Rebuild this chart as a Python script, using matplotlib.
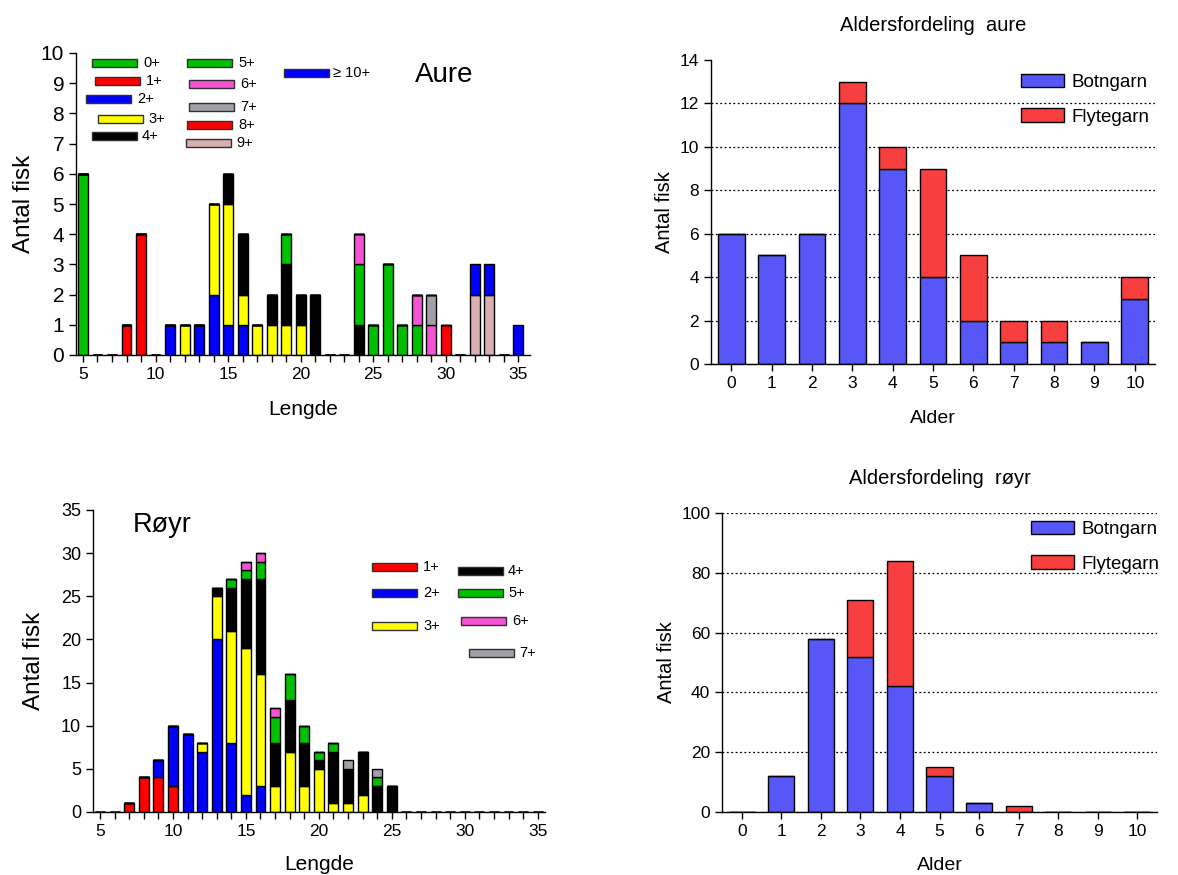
"""
Lengde- og aldersfordeling for aure og røyr (botngarn og flytegarn).
"""

import numpy as np
import matplotlib
matplotlib.use("Agg")
import matplotlib.pyplot as plt
from matplotlib.patches import Rectangle


# =========================================================
# PLOT FORMATTING
# =========================================================

plt.rcParams.update({
    "font.family": ["Liberation Sans", "DejaVu Sans"],
    "font.size": 13,
    "axes.linewidth": 1.0,
    "xtick.major.size": 5,
    "ytick.major.size": 5,
    "xtick.major.width": 1.0,
    "ytick.major.width": 1.0,
})


# =========================================================
# DATA
# =========================================================

lengths = list(range(5, 36))
ages = list(range(0, 11))

# Aure, antal fisk per lengde, per aldersgruppe (5 .. 35 cm)
aure_0 = [6, 0, 0, 0, 0, 0, 0, 0, 0, 0, 0, 0, 0, 0, 0, 0, 0, 0, 0, 0, 0, 0, 0, 0, 0, 0, 0, 0, 0, 0, 0]
aure_1 = [0, 0, 0, 1, 4, 0, 0, 0, 0, 0, 0, 0, 0, 0, 0, 0, 0, 0, 0, 0, 0, 0, 0, 0, 0, 0, 0, 0, 0, 0, 0]
aure_2 = [0, 0, 0, 0, 0, 0, 1, 0, 1, 2, 1, 1, 0, 0, 0, 0, 0, 0, 0, 0, 0, 0, 0, 0, 0, 0, 0, 0, 0, 0, 0]
aure_3 = [0, 0, 0, 0, 0, 0, 0, 1, 0, 3, 4, 1, 1, 1, 1, 1, 0, 0, 0, 0, 0, 0, 0, 0, 0, 0, 0, 0, 0, 0, 0]
aure_4 = [0, 0, 0, 0, 0, 0, 0, 0, 0, 0, 1, 2, 0, 1, 2, 1, 2, 0, 0, 1, 0, 0, 0, 0, 0, 0, 0, 0, 0, 0, 0]
aure_5 = [0, 0, 0, 0, 0, 0, 0, 0, 0, 0, 0, 0, 0, 0, 1, 0, 0, 0, 0, 2, 1, 3, 1, 1, 0, 0, 0, 0, 0, 0, 0]
aure_6 = [0, 0, 0, 0, 0, 0, 0, 0, 0, 0, 0, 0, 0, 0, 0, 0, 0, 0, 0, 1, 0, 0, 0, 1, 1, 0, 0, 0, 0, 0, 0]
aure_7 = [0, 0, 0, 0, 0, 0, 0, 0, 0, 0, 0, 0, 0, 0, 0, 0, 0, 0, 0, 0, 0, 0, 0, 0, 1, 0, 0, 0, 0, 0, 0]
aure_8 = [0, 0, 0, 0, 0, 0, 0, 0, 0, 0, 0, 0, 0, 0, 0, 0, 0, 0, 0, 0, 0, 0, 0, 0, 0, 1, 0, 0, 0, 0, 0]
aure_9 = [0, 0, 0, 0, 0, 0, 0, 0, 0, 0, 0, 0, 0, 0, 0, 0, 0, 0, 0, 0, 0, 0, 0, 0, 0, 0, 0, 2, 2, 0, 0]
aure_10 = [0, 0, 0, 0, 0, 0, 0, 0, 0, 0, 0, 0, 0, 0, 0, 0, 0, 0, 0, 0, 0, 0, 0, 0, 0, 0, 0, 1, 1, 0, 1]
aure_labels = ["0+", "1+", "2+", "3+", "4+", "5+", "6+", "7+", "8+", "9+", "\u2265 10+"]

# Røyr, antal fisk per lengde, per aldersgruppe (5 .. 35 cm)
royr_1 = [0, 0, 1, 4, 4, 3, 0, 0, 0, 0, 0, 0, 0, 0, 0, 0, 0, 0, 0, 0, 0, 0, 0, 0, 0, 0, 0, 0, 0, 0, 0]
royr_2 = [0, 0, 0, 0, 2, 7, 9, 7, 20, 8, 2, 3, 0, 0, 0, 0, 0, 0, 0, 0, 0, 0, 0, 0, 0, 0, 0, 0, 0, 0, 0]
royr_3 = [0, 0, 0, 0, 0, 0, 0, 1, 5, 13, 17, 13, 3, 7, 3, 5, 1, 1, 2, 0, 0, 0, 0, 0, 0, 0, 0, 0, 0, 0, 0]
royr_4 = [0, 0, 0, 0, 0, 0, 0, 0, 1, 5, 8, 11, 5, 6, 5, 1, 6, 4, 5, 3, 3, 0, 0, 0, 0, 0, 0, 0, 0, 0, 0]
royr_5 = [0, 0, 0, 0, 0, 0, 0, 0, 0, 1, 1, 2, 3, 3, 2, 1, 1, 0, 0, 1, 0, 0, 0, 0, 0, 0, 0, 0, 0, 0, 0]
royr_6 = [0, 0, 0, 0, 0, 0, 0, 0, 0, 0, 1, 1, 1, 0, 0, 0, 0, 0, 0, 0, 0, 0, 0, 0, 0, 0, 0, 0, 0, 0, 0]
royr_7 = [0, 0, 0, 0, 0, 0, 0, 0, 0, 0, 0, 0, 0, 0, 0, 0, 0, 1, 0, 1, 0, 0, 0, 0, 0, 0, 0, 0, 0, 0, 0]
royr_labels = ["1+", "2+", "3+", "4+", "5+", "6+", "7+"]

# Aldersfordeling
aure_botngarn = [6, 5, 6, 12, 9, 4, 2, 1, 1, 1, 3]
aure_flytegarn = [0, 0, 0, 1, 1, 5, 3, 1, 1, 0, 1]
royr_botngarn = [0, 12, 58, 52, 42, 12, 3, 0, 0, 0, 0]
royr_flytegarn = [0, 0, 0, 19, 42, 3, 0, 2, 0, 0, 0]


# =========================================================
# COLOURS
# =========================================================

green = "#00C000"
red = "#FF0000"
blue = "#0000FF"
yellow = "#FFFF00"
black = "#000000"
pink = "#F552D4"
gray = "#A0A0A8"
tan = "#D8B0B0"

aure_colors = [green, red, blue, yellow, black, green, pink, gray, red, tan, blue]
royr_colors = [red, blue, yellow, black, green, pink, gray]

botn_color = "#5757F7"
flyt_color = "#F73F3F"


# =========================================================
# FIGURE SETUP (pixel layout of the original)
# =========================================================

W, H = 1178, 875
fig = plt.figure(figsize=(W / 100, H / 100), dpi=100)


def box(x0, y0, x1, y1):
    # pixel box (top-left origin) -> figure fraction rect
    return [x0 / W, 1 - y1 / H, (x1 - x0) / W, (y1 - y0) / H]


def fig_key(x, y, color, label, tx, w=45, h=8):
    # small legend swatch + text, placed in figure pixels
    fig.patches.append(Rectangle((x / W, 1 - (y + h / 2) / H), w / W, h / H,
                                 transform=fig.transFigure, facecolor=color,
                                 edgecolor="#303030", linewidth=1.0))
    fig.text(tx / W, 1 - y / H, label, fontsize=10.5, va="center", ha="left")


def stacked(ax, x, series, colors, width=0.68):
    bottom = np.zeros(len(x))
    for vals, col in zip(series, colors):
        vals = np.array(vals, dtype=float)
        ax.bar(x, vals, bottom=bottom, width=width, color=col,
               edgecolor="black", linewidth=1.0)
        bottom += vals


def clean(ax):
    ax.spines["top"].set_visible(False)
    ax.spines["right"].set_visible(False)
    ax.tick_params(direction="out")


# =========================================================
# LENGDEFORDELING AURE
# =========================================================

ax1 = fig.add_axes(box(76, 53, 530, 355))
stacked(ax1, lengths, [aure_0, aure_1, aure_2, aure_3, aure_4, aure_5,
                       aure_6, aure_7, aure_8, aure_9, aure_10], aure_colors)
ax1.set_xlim(4.52, 35.8)
ax1.set_ylim(0, 10)
ax1.set_yticks(range(0, 11))
ax1.set_xticks(lengths)
ax1.set_xticklabels([str(v) if v % 5 == 0 else "" for v in lengths])
ax1.tick_params(axis="y", labelsize=15)
ax1.tick_params(axis="x", labelsize=12.5)
ax1.set_ylabel("Antal fisk", fontsize=17.5)
ax1.yaxis.set_label_coords(-0.09, 0.5)
ax1.set_xlabel("Lengde", fontsize=15, labelpad=13)
clean(ax1)
fig.text(444 / W, 1 - 75 / H, "Aure", fontsize=20, ha="center", va="center")

aure_key = [(92, 63, 143), (95, 81, 146), (86, 99, 137), (98, 119, 148), (92, 136, 142),
            (187, 63, 238), (189, 84, 240), (189, 107, 240), (187, 125, 238),
            (186, 143, 236), (284, 73, 333)]
for (kx, ky, tx), col, lab in zip(aure_key, aure_colors, aure_labels):
    fig_key(kx, ky, col, lab, tx)


# =========================================================
# LENGDEFORDELING RØYR
# =========================================================

ax2 = fig.add_axes(box(93, 510, 545, 812))
stacked(ax2, lengths, [royr_1, royr_2, royr_3, royr_4, royr_5, royr_6, royr_7],
        royr_colors)
ax2.set_xlim(4.52, 35.5)
ax2.set_ylim(0, 35)
ax2.set_yticks(range(0, 36, 5))
ax2.set_xticks(lengths)
ax2.set_xticklabels([str(v) if v % 5 == 0 else "" for v in lengths])
ax2.tick_params(axis="y", labelsize=13)
ax2.tick_params(axis="x", labelsize=12.5)
ax2.set_ylabel("Antal fisk", fontsize=17.5)
ax2.yaxis.set_label_coords(-0.106, 0.5)
ax2.set_xlabel("Lengde", fontsize=15, labelpad=12)
clean(ax2)
fig.text(162 / W, 1 - 525 / H, "Røyr", fontsize=19.5, ha="center", va="center")

royr_key = [(372, 567, 423), (372, 593, 423), (372, 626, 423), (458, 571, 508),
            (458, 593, 508), (461, 621, 512), (469, 653, 519)]
for (kx, ky, tx), col, lab in zip(royr_key, royr_colors, royr_labels):
    fig_key(kx, ky, col, lab, tx)


# =========================================================
# ALDERSFORDELING
# =========================================================

def age_plot(rect, botn, flyt, ymax, ystep, title, anchor, xpad):
    ax = fig.add_axes(rect)
    ax.bar(ages, botn, width=0.66, color=botn_color, edgecolor="black",
           linewidth=1.0, label="Botngarn")
    ax.bar(ages, flyt, bottom=botn, width=0.66, color=flyt_color,
           edgecolor="black", linewidth=1.0, label="Flytegarn")
    ax.set_xlim(-0.5, 10.5)
    ax.set_ylim(0, ymax)
    ax.set_yticks(np.arange(0, ymax + 1, ystep))
    ax.set_xticks(ages)
    ax.set_axisbelow(True)
    ax.grid(axis="y", linestyle=(0, (1.5, 2)), color="black", linewidth=0.9)
    ax.tick_params(labelsize=12.5)
    ax.set_ylabel("Antal fisk", fontsize=14.5)
    ax.set_xlabel("Alder", fontsize=14, labelpad=xpad)
    ax.set_title(title, fontsize=14.5, pad=21)
    ax.legend(loc="upper right", bbox_to_anchor=anchor, frameon=False,
              fontsize=13.5, handlelength=2.3, handleheight=0.7,
              labelspacing=0.93, handletextpad=0.4)
    clean(ax)
    return ax


ax3 = age_plot(box(711, 60, 1155, 364), aure_botngarn, aure_flytegarn, 14, 2,
               "Aldersfordeling  aure", (1.025, 1.01), 14)
ax3.get_ygridlines()[-1].set_visible(False)

ax4 = age_plot(box(722, 513, 1157, 812), royr_botngarn, royr_flytegarn, 100, 20,
               "Aldersfordeling  røyr", (1.045, 1.03), 13)

plt.savefig("out.png", dpi=100)
